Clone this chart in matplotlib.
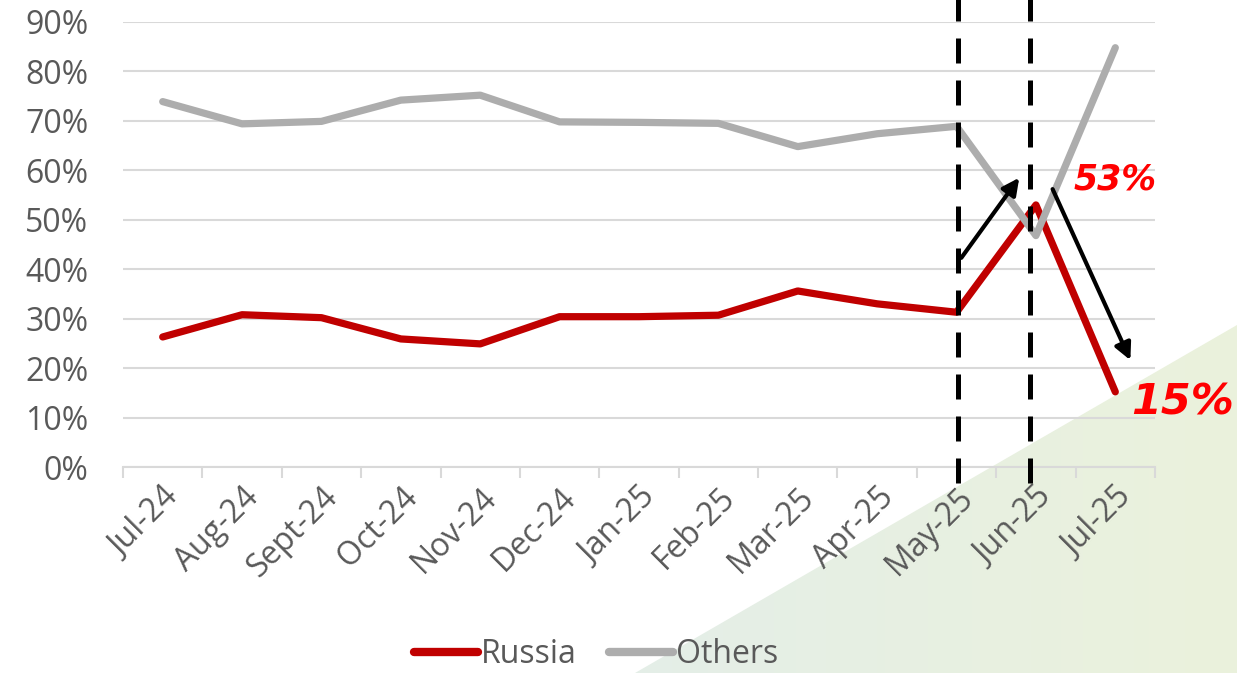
import numpy as np
import matplotlib
matplotlib.use("Agg")
import matplotlib.pyplot as plt
from matplotlib.patches import Polygon
from matplotlib.lines import Line2D
from matplotlib.colors import LinearSegmentedColormap

months = ["Jul-24", "Aug-24", "Sept-24", "Oct-24", "Nov-24", "Dec-24", "Jan-25",
          "Feb-25", "Mar-25", "Apr-25", "May-25", "Jun-25", "Jul-25"]
russia = [26.3, 30.8, 30.2, 25.9, 24.9, 30.4, 30.4, 30.7, 35.6, 33.0, 31.3, 53.0, 15.2]
others = [73.9, 69.4, 69.9, 74.2, 75.2, 69.8, 69.7, 69.5, 64.8, 67.4, 68.9, 46.8, 84.8]
yticks = [0, 10, 20, 30, 40, 50, 60, 70, 80, 90]

RED = "#C00000"
GREY = "#ADADAD"
TXT = "#595959"
plt.rcParams["font.family"] = ["Open Sans", "DejaVu Sans"]

fig = plt.figure(figsize=(12.37, 6.73), dpi=100)

# background green triangle with soft gradient
bg = fig.add_axes([0, 0, 1, 1], zorder=0)
bg.set_xlim(0, 1)
bg.set_ylim(0, 1)
bg.axis("off")
grad = np.linspace(0, 1, 256)[None, :]
cmap = LinearSegmentedColormap.from_list("g", ["#e4eee8", "#ebf2dc"])
im = bg.imshow(grad, extent=[0.5, 1, 0, 0.52], cmap=cmap, aspect="auto")
tri = Polygon([(635 / 1237, 0), (1, 1 - 325 / 673), (1, 0)], closed=True,
              transform=bg.transAxes, facecolor="none", edgecolor="none")
bg.add_patch(tri)
im.set_clip_path(tri)

ax = fig.add_axes([123 / 1237, 1 - 467 / 673, (1155 - 123) / 1237, (467 - 22) / 673], zorder=1)
ax.patch.set_alpha(0)
x = np.arange(len(months))

ax.set_ylim(0, 90)
ax.set_xlim(-0.5, len(months) - 0.5)
ax.set_yticks(yticks)
ax.set_yticklabels([f"{v}%" for v in yticks])
ax.yaxis.grid(True, color="#d9d9d9", linewidth=1.5)
ax.set_axisbelow(True)
for s in ["top", "right", "left"]:
    ax.spines[s].set_visible(False)
ax.spines["bottom"].set_color("#d9d9d9")
ax.spines["bottom"].set_linewidth(1.5)
ax.tick_params(axis="y", length=0, labelsize=23, labelcolor=TXT, pad=25)
ax.set_xticks(x)
ax.set_xticklabels(months, rotation=45, ha="right", rotation_mode="anchor")
ax.tick_params(axis="x", which="major", length=0, labelsize=23, labelcolor=TXT, pad=10)
ax.set_xticks(np.arange(-0.5, len(months)), minor=True)
ax.tick_params(axis="x", which="minor", length=8, color="#d9d9d9", width=1.5)

ax.plot(x, russia, color=RED, linewidth=5.2, solid_capstyle="round", solid_joinstyle="round", zorder=3)
ax.plot(x, others, color=GREY, linewidth=5.2, solid_capstyle="round", solid_joinstyle="round", zorder=3)

# dashed marker lines
for xv in [10.02, 10.92]:
    ax.plot([xv, xv], [-3.2, 95], color="black", linestyle=(0, (5, 3.4)),
            linewidth=3.6, clip_on=False, zorder=4)

# arrows
arrow = dict(arrowstyle="-|>,head_length=1.0,head_width=0.5", color="black", lw=3,
             shrinkA=0, shrinkB=0)
ax.annotate("", xy=(10.79, 58.5), xytext=(10.06, 42.3), arrowprops=arrow, zorder=5)
ax.annotate("", xy=(12.19, 21.6), xytext=(11.21, 56.2), arrowprops=arrow,
            zorder=5, annotation_clip=False)

ax.text(12.0, 58.1, "53%", color="#FF0000", fontsize=25, fontweight="bold", fontstyle="italic",
        ha="center", va="center", family="DejaVu Sans", zorder=6)
ax.text(12.85, 13.0, "15%", color="#FF0000", fontsize=31, fontweight="bold", fontstyle="italic",
        ha="center", va="center", family="DejaVu Sans", zorder=6, clip_on=False)

handles = [Line2D([0], [0], color=RED, linewidth=6, solid_capstyle="round"),
           Line2D([0], [0], color=GREY, linewidth=6, solid_capstyle="round")]
fig.legend(handles, ["Russia", "Others"], loc="lower center", bbox_to_anchor=(0.482, -0.026),
           ncol=2, frameon=False, fontsize=23, labelcolor=TXT, handlelength=2.0,
           handletextpad=0.1, columnspacing=1.0, borderpad=0.1)

fig.savefig("out.png", dpi=100)
